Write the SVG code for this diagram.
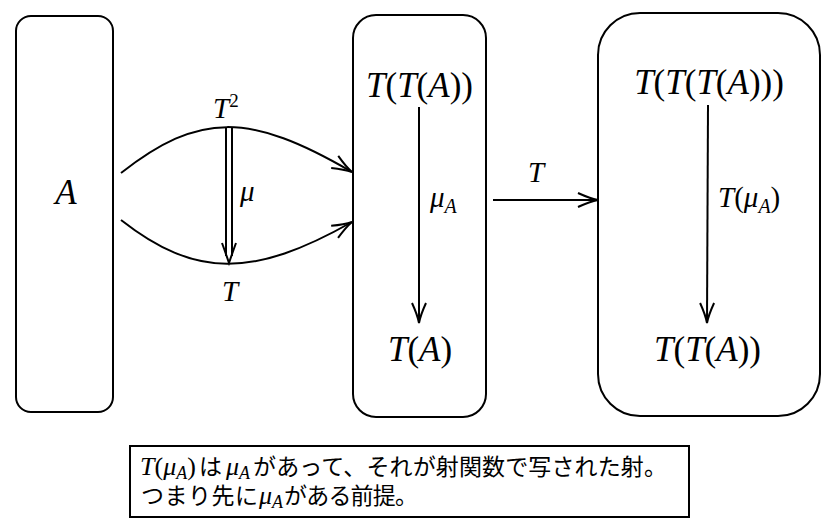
<svg xmlns="http://www.w3.org/2000/svg" width="832" height="522" viewBox="0 0 832 522">
<style>
.box{fill:#fff;stroke:#000;stroke-width:2}
.ln{fill:none;stroke:#000;stroke-width:2}
.m{font-family:"Liberation Serif","DejaVu Serif",serif;fill:#000}
.big{font-size:35px}
.lab{font-size:29px}
.i{font-style:italic}
.jp{font-family:"Noto Sans CJK JP","Noto Sans",sans-serif;font-size:23px;fill:#000}
.nm{font-size:26px}
</style>
<defs>
<marker id="ah" markerUnits="userSpaceOnUse" markerWidth="24" markerHeight="18" viewBox="-22 -9 24 18" refX="0" refY="0" orient="auto">
<path d="M-20,-7 Q-8,-1.5 0,0 Q-8,1.5 -20,7" fill="none" stroke="#000" stroke-width="2"/>
</marker>
</defs>
<rect width="832" height="522" fill="#fff"/>
<g id="nodeA">
<rect class="box" x="16" y="16" width="97" height="396" rx="15"/>
<text class="m big i" x="66" y="204" text-anchor="middle">A</text>
</g>
<g id="nodeTT">
<rect class="box" x="353" y="15" width="133" height="402" rx="23"/>
<text class="m big" x="419.5" y="97" text-anchor="middle"><tspan class="i">T</tspan>(<tspan class="i">T</tspan>(<tspan class="i">A</tspan>))</text>
<text class="m big" x="420" y="361" text-anchor="middle"><tspan class="i">T</tspan>(<tspan class="i">A</tspan>)</text>
</g>
<g id="nodeTTT">
<rect class="box" x="598" y="13" width="222" height="403" rx="42"/>
<text class="m big" x="709" y="94" text-anchor="middle"><tspan class="i">T</tspan>(<tspan class="i">T</tspan>(<tspan class="i">T</tspan>(<tspan class="i">A</tspan>)))</text>
<text class="m big" x="707.5" y="361" text-anchor="middle"><tspan class="i">T</tspan>(<tspan class="i">T</tspan>(<tspan class="i">A</tspan>))</text>
</g>
<g id="connectors">
<path class="ln" d="M121,173 C199,112 249,112 352,172" marker-end="url(#ah)"/>
<path class="ln" d="M121,220 C195,278 253,278 352,222" marker-end="url(#ah)"/>
<line class="ln" x1="226" y1="128" x2="226" y2="256"/>
<line class="ln" x1="232" y1="128" x2="232" y2="256"/>
<path class="ln" d="M222,243 Q226,254 229,263 Q232,254 236,243"/>
<line class="ln" x1="419" y1="107" x2="419" y2="323" marker-end="url(#ah)"/>
<line class="ln" x1="493" y1="200" x2="598" y2="200" marker-end="url(#ah)"/>
<line class="ln" x1="708" y1="105" x2="707" y2="323" marker-end="url(#ah)"/>
</g>
<g id="labels">
<text class="m lab" x="213" y="118"><tspan class="i">T</tspan><tspan font-size="19" dy="-11">2</tspan></text>
<text class="m lab i" x="240" y="201">μ</text>
<text class="m lab i" x="230" y="301" text-anchor="middle">T</text>
<text class="m lab" x="430" y="207"><tspan class="i">μ</tspan><tspan class="i" font-size="20" dy="6">A</tspan></text>
<text class="m lab i" x="536" y="182" text-anchor="middle">T</text>
<text class="m lab" x="718" y="207"><tspan class="i">T</tspan>(<tspan class="i">μ</tspan><tspan class="i" font-size="20" dy="6">A</tspan><tspan dy="-6">)</tspan></text>
</g>
<g id="note">
<rect class="box" x="130" y="446" width="559" height="71"/>
<text class="m nm" x="140" y="475"><tspan class="i">T</tspan>(<tspan class="i">μ</tspan><tspan class="i" font-size="18" dy="4">A</tspan><tspan dy="-4">)</tspan></text>
<text class="jp" x="199" y="475">は</text>
<text class="m nm i" x="226" y="475">μ<tspan font-size="18" dy="4">A</tspan></text>
<text class="jp" x="253" y="475" textLength="414" lengthAdjust="spacing">があって、それが射関数で写された射。</text>
<text class="jp" x="141" y="504" textLength="117" lengthAdjust="spacing">つまり先に</text>
<text class="m nm i" x="259" y="504">μ<tspan font-size="18" dy="4">A</tspan></text>
<text class="jp" x="284" y="504" textLength="134" lengthAdjust="spacing">がある前提。</text>
</g>
</svg>
